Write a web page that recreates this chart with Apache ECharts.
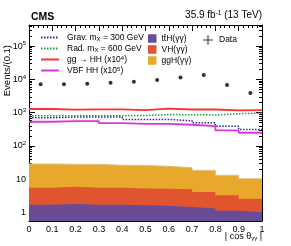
<!DOCTYPE html>
<html><head><meta charset="utf-8">
<script src="https://cdn.jsdelivr.net/npm/echarts@6/dist/echarts.min.js"></script>
<style>html,body{margin:0;padding:0;background:#fff}#c{width:291px;height:246px}</style>
</head><body><div id="c"></div>
<script>
const binEdges = [0,0.1,0.2,0.3,0.4,0.5,0.6,0.7,0.8,0.9,1.0];
const binCenters = [0.05,0.15,0.25,0.35,0.45,0.55,0.65,0.75,0.85,0.95];
const dataEvents = [7100,7100,7400,7950,8500,9600,11500,13600,6800,3900];
const ttH = [1.72,1.81,1.72,1.72,1.65,1.61,1.47,1.34,1.14,1.04];
const VH  = [3.88,4.19,3.88,3.88,3.65,3.59,3.53,2.81,2.16,1.56];
const ggH = [23.3,22.2,22.6,20.8,20.7,19.4,17.3,14.45,9.9,7.8];
const grav300 = [705,740,740,740,630,630,570,495,395,315];
const rad600  = [810,810,815,815,825,880,870,860,930,975];
const ggHH    = [1290,1240,1260,1260,1200,1330,1250,1250,1170,1200];
const vbfHH   = [535,560,560,485,465,465,435,395,295,250];
const xTickLabels = ['0','0.1','0.2','0.3','0.4','0.5','0.6','0.7','0.8','0.9','1'];
const yMajorTicks = [1,10,100,1000,10000,100000];

const Y_MIN = 0.56, Y_MAX = 4.3e5;
const yMinorTicks = [];
for (let k = -1; k <= 5; k++) for (let m = 2; m <= 9; m++) {
  const v = m * Math.pow(10, k);
  if (v > Y_MIN && v < Y_MAX) yMinorTicks.push(v);
}
// stacked totals (ttH at bottom, then VH, then ggH)
const stackTtH = ttH.slice();
const stackVH  = ttH.map((v,i)=>v + VH[i]);
const stackGgH = ttH.map((v,i)=>v + VH[i] + ggH[i]);
function stepData(vals){ return binEdges.map((e,i)=>[e, vals[Math.min(i, vals.length-1)]]); }

const FONT = 'Liberation Sans, Arial, sans-serif';
const chart = echarts.init(document.getElementById('c'), null, {renderer:'canvas'});
const sup = {fontSize:6, verticalAlign:'top', padding:[0,0,5,0], fontFamily:FONT, color:'#000'};
const sub = {fontSize:6, verticalAlign:'bottom', padding:[4,0,0,0], fontFamily:FONT, color:'#000'};
const yLabelFmt = v => { const k = Math.round(Math.log10(v)); if (k===0) return '1'; if (k===1) return '10'; return '10{sup|' + k + '}'; };

function yAx(pos, major, labels){
  return {type:'log', logBase:10, min:Y_MIN, max:Y_MAX, position:pos,
    axisLine:{show:major, lineStyle:{color:'#000', width:1}},
    axisTick:{show:true, inside:true, length: major?6:3, lineStyle:{color:'#000', width:1}, customValues: major? yMajorTicks : yMinorTicks},
    axisLabel:{show:labels, customValues: yMajorTicks, formatter: yLabelFmt, fontSize:9, fontFamily:FONT, color:'#000', margin:3,
      rich:{sup:{fontSize:6, verticalAlign:'top', padding:[0,0,5,0], fontFamily:FONT, color:'#000'}}},
    splitLine:{show:false}, minorTick:{show:false}};
}
function xAx(pos, labels){
  return {type:'value', min:0, max:1, interval:0.1, position:pos,
    axisLine:{show:true, lineStyle:{color:'#000', width:1}},
    axisTick:{show:true, inside:true, length:6, lineStyle:{color:'#000'}},
    minorTick:{show:true, splitNumber:5, length:3, lineStyle:{color:'#000'}},
    axisLabel:{show:labels, fontSize:9, fontFamily:FONT, color:'#000', margin:4,
      formatter: v => xTickLabels[Math.round(v*10)]},
    splitLine:{show:false}, minorSplitLine:{show:false}};
}
function fillSeries(name, vals, color, edge, z){
  return {name:name, type:'line', step:'end', data:stepData(vals), showSymbol:false, symbol:'none',
    itemStyle:{color:color}, lineStyle:{width: edge?1:0, color: edge||color}, areaStyle:{color:color, opacity:1, origin:'start'}, z:z};
}

const option = {
  animation:false,
  backgroundColor:'#fff',
  grid:{left:29, right:29, top:25, bottom:25, containLabel:false},
  xAxis:[xAx('bottom', true), xAx('top', false)],
  yAxis:[yAx('left', true, true), yAx('left', false, false), yAx('right', true, false), yAx('right', false, false)],
  legend:[
    {orient:'vertical', left:40, top:33, itemWidth:18, itemHeight:8, itemGap:2, padding:0,
      itemStyle:{opacity:0},
      textStyle:{fontSize:8.5, lineHeight:9, fontFamily:FONT, color:'#000', padding:[0,0,0,3], rich:{sup:sup, sub:sub}},
      data:['grav','rad','gghh','vbf'],
      formatter: n => ({grav:'Grav. m{sub|X} = 300 GeV', rad:'Rad. m{sub|X} = 600 GeV', gghh:'gg \u2192 HH (x10{sup|4})', vbf:'VBF HH (x10{sup|5})'})[n]},
    {orient:'vertical', left:148, top:34, itemWidth:8.5, itemHeight:8.5, itemGap:2, padding:0,
      textStyle:{fontSize:8.5, fontFamily:FONT, color:'#000', padding:[0,0,0,0]},
      itemStyle:{borderWidth:0},
      data:[{name:'tt\u0304H(\u03b3\u03b3)', icon:'rect'},{name:'VH(\u03b3\u03b3)', icon:'rect'},{name:'ggH(\u03b3\u03b3)', icon:'rect'}]},
    {orient:'vertical', left:203, top:35, itemWidth:10, itemHeight:10, padding:0,
      textStyle:{fontSize:8.5, fontFamily:FONT, color:'#000', padding:[0,0,0,1]},
      data:[{name:'Data', icon:'path://M4.5,0L5.5,0L5.5,4.5L10,4.5L10,5.5L5.5,5.5L5.5,10L4.5,10L4.5,5.5L0,5.5L0,4.5L4.5,4.5Z'}]}
  ],
  graphic:[
    {type:'text', left:31, top:12, style:{text:'CMS', font:'bold 10.5px '+FONT, fill:'#000'}},
    {type:'text', right:29, top:10, style:{text:'35.9 fb{sup|-1} (13 TeV)', font:'10px '+FONT, fill:'#000',
      rich:{sup:{fontSize:6.5, verticalAlign:'top', padding:[0,0,4,0], fontFamily:FONT, fill:'#000'}}}},
    {type:'text', x:7, y:45, rotation:Math.PI/2, style:{text:'Events/(0.1)', font:'9.5px '+FONT, fill:'#000', align:'right', verticalAlign:'middle'}},
    {type:'text', right:29, top:232, style:{text:'| cos \u03b8{sub|\u03b3\u03b3} |', font:'9px '+FONT, fill:'#000',
      rich:{sub:{fontSize:6, verticalAlign:'bottom', padding:[4,0,0,0], fontFamily:FONT, fill:'#000'}}}}
  ],
  series:[
    fillSeries('ggH(\u03b3\u03b3)', stackGgH, '#e8a82c', '#dcc08a', 1),
    fillSeries('VH(\u03b3\u03b3)', stackVH, '#e05530', null, 1.1),
    fillSeries('tt\u0304H(\u03b3\u03b3)', stackTtH, '#6a4b95', null, 1.2),
    {name:'grav', type:'line', step:'end', data:stepData(grav300), showSymbol:false, symbol:'none',
      itemStyle:{color:'#26268f'}, lineStyle:{width:1.5, type:[1.5,1.5], color:'#26268f'}, z:3},
    {name:'rad', type:'line', step:'end', data:stepData(rad600), showSymbol:false, symbol:'none',
      itemStyle:{color:'#1f9a55'}, lineStyle:{width:1.5, type:[1.5,1.5], color:'#1f9a55'}, z:3},
    {name:'gghh', type:'line', step:'end', data:stepData(ggHH), showSymbol:false, symbol:'none',
      itemStyle:{color:'#ff3030'}, lineStyle:{width:1.8, color:'#ff3030'}, z:3},
    {name:'vbf', type:'line', step:'end', data:stepData(vbfHH), showSymbol:false, symbol:'none',
      itemStyle:{color:'#e032e0'}, lineStyle:{width:1.8, color:'#e032e0'}, z:3},
    {name:'Data', type:'scatter', data:binCenters.map((x,i)=>[x, dataEvents[i]]), symbol:'circle', symbolSize:4,
      itemStyle:{color:'#000'}, z:5}
  ]
};
chart.setOption(option);
</script></body></html>
